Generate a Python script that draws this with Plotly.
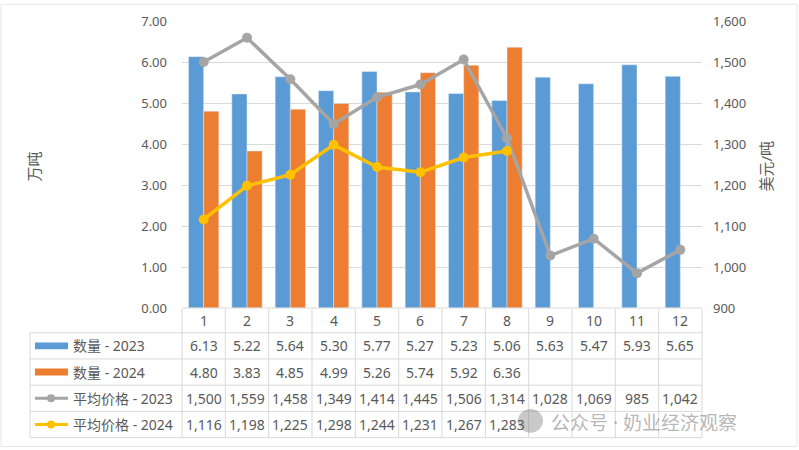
import plotly.graph_objects as go

months = [1, 2, 3, 4, 5, 6, 7, 8, 9, 10, 11, 12]
qty_2023 = [6.13, 5.22, 5.64, 5.30, 5.77, 5.27, 5.23, 5.06, 5.63, 5.47, 5.93, 5.65]
qty_2024 = [4.80, 3.83, 4.85, 4.99, 5.26, 5.74, 5.92, 6.36, None, None, None, None]
price_2023 = [1500, 1559, 1458, 1349, 1414, 1445, 1506, 1314, 1028, 1069, 985, 1042]
price_2024 = [1116, 1198, 1225, 1298, 1244, 1231, 1267, 1283, None, None, None, None]
series_names = ["数量 - 2023", "数量 - 2024", "平均价格 - 2023", "平均价格 - 2024"]

BLUE = "#5B9BD5"
ORANGE = "#ED7D31"
GREY = "#A5A5A5"
YELLOW = "#FFC000"
TXT = "#595959"
GRID = "#D9D9D9"
FONT = "Noto Sans, Noto Sans CJK SC"

W, H = 799, 450
L, R, T, B = 182, 97, 18, 142
PW, PH = W - L - R, H - T - B

def px_x(x):
    return (x - L) / PW

def px_y(y):
    return (H - B - y) / PH

fig = go.Figure()
fig.add_trace(go.Bar(x=months, y=qty_2023, name=series_names[0], marker_color=BLUE))
fig.add_trace(go.Bar(x=months, y=qty_2024, name=series_names[1], marker_color=ORANGE))
fig.add_trace(go.Scatter(x=months, y=price_2023, name=series_names[2], yaxis="y2",
                         mode="lines+markers", line=dict(color=GREY, width=3.5),
                         marker=dict(size=10, color=GREY)))
fig.add_trace(go.Scatter(x=months, y=price_2024, name=series_names[3], yaxis="y2",
                         mode="lines+markers", line=dict(color=YELLOW, width=3.5),
                         marker=dict(size=10, color=YELLOW)))

shapes = []
annotations = []
row_lines = [333, 359.5, 386, 412.5, 439]
top_header = 309
left_table = 30
col_w = PW / 12
line_style = dict(color=GRID, width=1)
TF = dict(size=14, color=TXT, family=FONT)

def ann(x, xref, ypix, text, font, **kw):
    annotations.append(dict(x=x, xref=xref, y=px_y(ypix), yref="paper", text=text,
                            showarrow=False, yanchor="middle", valign="middle", font=font, **kw))

shapes.append(dict(type="line", xref="paper", yref="paper", x0=0, x1=1,
                   y0=px_y(H - B), y1=px_y(H - B), line=line_style))
for y in row_lines:
    shapes.append(dict(type="line", xref="paper", yref="paper", x0=px_x(left_table), x1=1,
                       y0=px_y(y), y1=px_y(y), line=line_style))
for i in range(13):
    xp = L + i * col_w
    shapes.append(dict(type="line", xref="paper", yref="paper", x0=px_x(xp), x1=px_x(xp),
                       y0=px_y(top_header), y1=px_y(row_lines[-1]), line=line_style))
shapes.append(dict(type="line", xref="paper", yref="paper", x0=px_x(left_table), x1=px_x(left_table),
                   y0=px_y(row_lines[0]), y1=px_y(row_lines[-1]), line=line_style))

for m in months:
    ann(m, "x", (top_header + row_lines[0]) / 2, str(m), TF, xanchor="center")

rows = [
    ([f"{v:.2f}" if v is not None else "" for v in qty_2023], BLUE, "bar"),
    ([f"{v:.2f}" if v is not None else "" for v in qty_2024], ORANGE, "bar"),
    ([f"{v:,}" if v is not None else "" for v in price_2023], GREY, "line"),
    ([f"{v:,}" if v is not None else "" for v in price_2024], YELLOW, "line"),
]
for r, (vals, col, kind) in enumerate(rows):
    yc = (row_lines[r] + row_lines[r + 1]) / 2
    for m, t in zip(months, vals):
        if t:
            ann(m, "x", yc, t, TF, xanchor="center")
    if kind == "bar":
        shapes.append(dict(type="rect", xref="paper", yref="paper", x0=px_x(35), x1=px_x(68),
                           y0=px_y(yc - 3.5), y1=px_y(yc + 3.5), fillcolor=col, line=dict(width=0)))
    else:
        shapes.append(dict(type="line", xref="paper", yref="paper", x0=px_x(35), x1=px_x(68),
                           y0=px_y(yc), y1=px_y(yc), line=dict(color=col, width=3)))
        shapes.append(dict(type="circle", xref="paper", yref="paper", x0=px_x(47), x1=px_x(55),
                           y0=px_y(yc - 4), y1=px_y(yc + 4), fillcolor=col, line=dict(width=0)))
    ann(px_x(71), "paper", yc, series_names[r], TF, xanchor="left")

ann(px_x(34), "paper", 165, "万吨", dict(size=15, color=TXT, family=FONT),
    textangle=-90, xanchor="center")
ann(px_x(766), "paper", 165, "美元/吨", dict(size=15, color=TXT, family=FONT),
    textangle=-90, xanchor="center")
ann(px_x(550), "paper", 424, "公众号 · 奶业经济观察",
    dict(size=19, color="rgba(120,120,120,0.55)", family=FONT), xanchor="left", borderpad=0)
shapes.append(dict(type="circle", xref="paper", yref="paper", x0=px_x(518), x1=px_x(543),
                   y0=px_y(410), y1=px_y(434), fillcolor="rgba(120,120,120,0.4)", line=dict(width=0)))
shapes.append(dict(type="rect", xref="paper", yref="paper", x0=px_x(1), x1=px_x(W - 2),
                   y0=px_y(1), y1=px_y(H - 2), line=dict(color="#E6E6E6", width=1)))

fig.update_layout(
    width=W, height=H,
    margin=dict(l=L, r=R, t=T, b=B),
    paper_bgcolor="white", plot_bgcolor="white",
    barmode="group", bargap=0.3, bargroupgap=0.0,
    showlegend=False,
    font=dict(family=FONT, color=TXT, size=13),
    xaxis=dict(range=[0.5, 12.5], showticklabels=False, showgrid=False, zeroline=False,
               tickvals=months, ticks=""),
    yaxis=dict(range=[0, 7], dtick=1, tickformat=".2f", showgrid=True, gridcolor=GRID,
               zeroline=False, ticklabelstandoff=14, tickfont=dict(size=13, color=TXT)),
    yaxis2=dict(range=[900, 1600], dtick=100, tickformat=",", overlaying="y", side="right",
                showgrid=False, zeroline=False, ticklabelstandoff=10,
                tickfont=dict(size=13, color=TXT)),
    shapes=shapes, annotations=annotations,
)

fig.write_html("out.html", config={"displayModeBar": False},
               post_script="document.body.style.margin='0';")
